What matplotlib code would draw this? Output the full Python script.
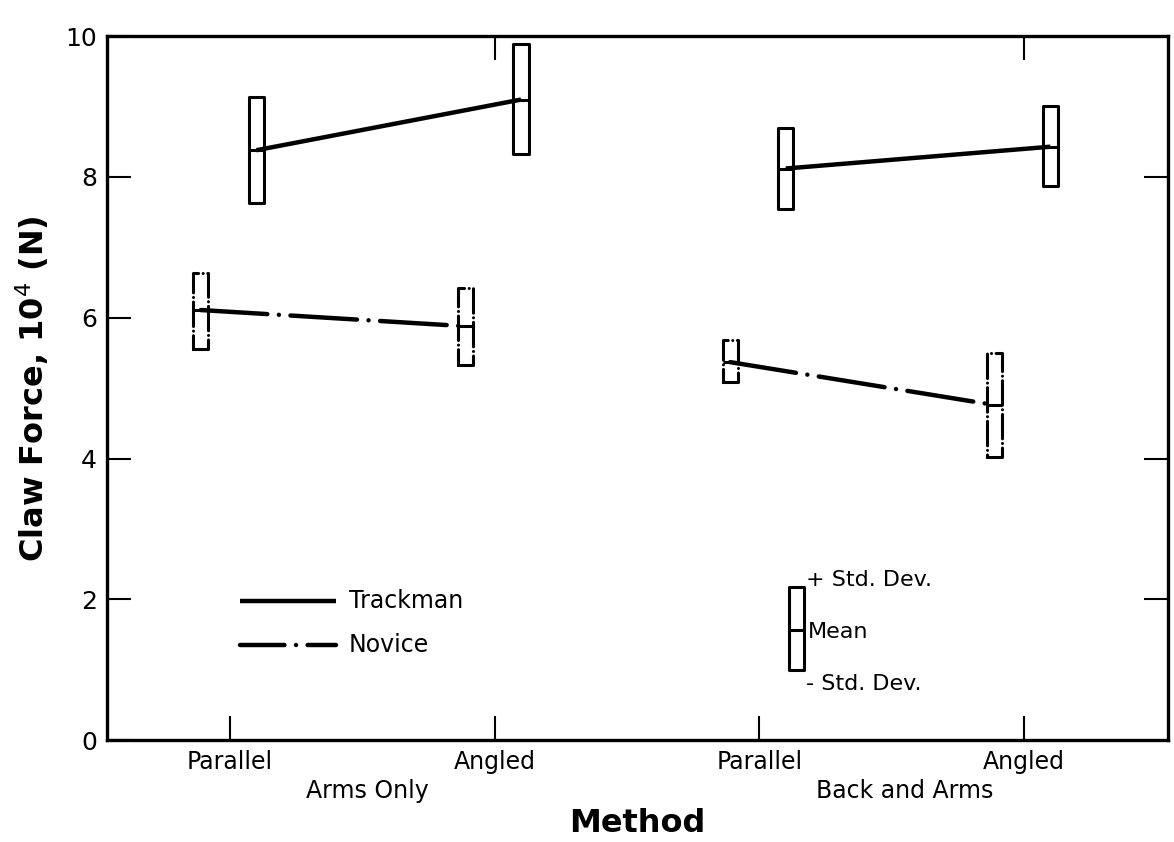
import matplotlib
matplotlib.use("Agg")
import matplotlib.pyplot as plt
from matplotlib.patches import Rectangle
from matplotlib.transforms import blended_transform_factory

plt.rcParams['font.family'] = ['DejaVu Sans']

# Method positions and labels
positions = [1, 2, 3, 4]
tick_labels = ["Parallel", "Angled", "Parallel", "Angled"]
group_labels = ["Arms Only", "Back and Arms"]
group_centers = [1.52, 3.55]

# Claw force (10^4 N): mean, +std dev, -std dev
trackman_mean = [8.38, 9.10, 8.12, 8.43]
trackman_hi = [9.14, 9.89, 8.70, 9.01]
trackman_lo = [7.63, 8.32, 7.55, 7.87]
novice_mean = [6.11, 5.88, 5.37, 4.76]
novice_hi = [6.63, 6.42, 5.68, 5.50]
novice_lo = [5.56, 5.33, 5.09, 4.02]

# key box (mean / std dev explanation)
key_x = 3.14
key_mean, key_hi, key_lo = 1.56, 2.17, 1.00

box_w = 0.057
dashdot = (15, 2.6, 0.01, 2.6)

fig = plt.figure(figsize=(11.74, 8.42), dpi=100)
ax = fig.add_axes([0.091, 0.121, 0.904, 0.836])


def draw_box(x, lo, hi, mean, dashed=False):
    ls = (0, (8, 1.5, 0.01, 1.5)) if dashed else '-'
    ax.add_patch(Rectangle((x - box_w / 2, lo), box_w, hi - lo, fill=False,
                           edgecolor='black', lw=2.2, linestyle=ls,
                           joinstyle='round', capstyle='round', zorder=3))
    ax.plot([x - box_w / 2, x + box_w / 2], [mean, mean], color='black',
            lw=2.2, solid_capstyle='butt', zorder=3)


t_x = [p + 0.10 for p in positions]
n_x = [p - 0.11 for p in positions]

for g in (0, 2):
    ax.plot(t_x[g:g + 2], trackman_mean[g:g + 2], color='black', lw=3.2,
            solid_capstyle='butt', zorder=2)
    ax.plot(n_x[g:g + 2], novice_mean[g:g + 2], color='black', lw=3.2,
            dashes=dashdot, dash_capstyle='round', zorder=2)

for i in range(4):
    draw_box(t_x[i], trackman_lo[i], trackman_hi[i], trackman_mean[i])
    draw_box(n_x[i], novice_lo[i], novice_hi[i], novice_mean[i], dashed=True)

# line style legend
ax.plot([1.04, 1.40], [1.97, 1.97], color='black', lw=3.2, solid_capstyle='butt')
ax.plot([1.04, 1.40], [1.35, 1.35], color='black', lw=3.2,
        dashes=(10, 2.6, 0.01, 2.6), dash_capstyle='round')
ax.text(1.45, 1.97, "Trackman", fontsize=17, va='center', ha='left')
ax.text(1.45, 1.35, "Novice", fontsize=17, va='center', ha='left')

# mean / std dev key
draw_box(key_x, key_lo, key_hi, key_mean)
ax.text(key_x + 0.035, key_hi + 0.1, "+ Std. Dev.", fontsize=16, va='center', ha='left')
ax.text(key_x + 0.045, key_mean - 0.03, "Mean", fontsize=16, va='center', ha='left')
ax.text(key_x + 0.035, key_lo - 0.2, "- Std. Dev.", fontsize=16, va='center', ha='left')

ax.set_xlim(0.535, 4.545)
ax.set_ylim(0, 10)
ax.set_xticks(positions)
ax.set_xticklabels(tick_labels, fontsize=17)
ax.set_yticks([0, 2, 4, 6, 8, 10])
ax.set_yticklabels(["0", "2", "4", "6", "8", "10"], fontsize=18)
ax.tick_params(direction='in', length=17, width=1.5, pad=7)

for s in ax.spines.values():
    s.set_linewidth(2.4)

top = ax.secondary_xaxis('top')
top.set_xticks([2, 4])
top.set_xticklabels([])
top.tick_params(direction='in', length=17, width=1.5)
right = ax.secondary_yaxis('right')
right.set_yticks([2, 4, 8])
right.set_yticklabels([])
right.tick_params(direction='in', length=17, width=1.5)

trans = blended_transform_factory(ax.transData, ax.transAxes)
for gx, gl in zip(group_centers, group_labels):
    ax.text(gx, -0.072, gl, fontsize=17, ha='center', va='center', transform=trans)

ax.text(0.50, -0.118, "Method", fontsize=23, fontweight='bold', ha='center',
        va='center', transform=ax.transAxes)
ax.set_ylabel(r"Claw Force, 10$^4$ (N)", fontsize=23, fontweight='bold', labelpad=10)

fig.savefig("out.png", dpi=100)
